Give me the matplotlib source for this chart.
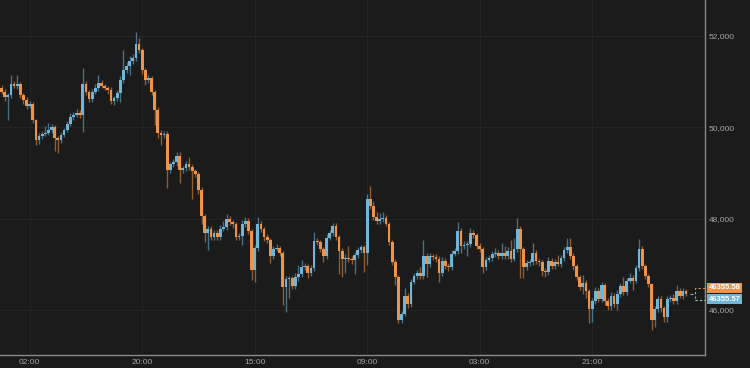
"""
30-min candlestick chart, dark theme
"""

import numpy as np
import matplotlib
matplotlib.use("Agg")
import matplotlib.pyplot as plt
import matplotlib.transforms as mtransforms
from matplotlib.patches import Rectangle

# 0. Colours
BG = "#1b1b1b"
UP = "#6fb6d9"
DOWN = "#ef9446"
GRID = "#242424"
AXIS = "#8a8a8a"
TEXT = "#a6a6a6"

plt.rcParams['font.family'] = ['Liberation Sans', 'DejaVu Sans']

# 1. Data
first_open = 50860
closes = [
    50770, 50670, 50710, 50950, 50910, 50950, 50710, 50600, 50470, 50510,
    50160, 49720, 49810, 49850, 49880, 49940, 50010, 49770, 49720, 49830,
    49940, 50070, 50230, 50270, 50310, 50270, 50950, 50770, 50620, 50770,
    50860, 50970, 50910, 50860, 50820, 50580, 50640, 50750, 51040, 51260,
    51340, 51450, 51520, 51830, 51690, 51260, 51040, 51080, 50770, 50380,
    49880, 49830, 49850, 49070, 49200, 49240, 49370, 49070, 49110, 49200,
    49130, 49040, 48980, 48630, 48060, 47690, 47770, 47600, 47690, 47600,
    47770, 47820, 47990, 47930, 47880, 47600, 47620, 47880, 47950, 47730,
    46880, 47360, 47880, 47770, 47600, 47530, 47180, 47340, 47360, 47250,
    46500, 46680, 46690, 46530, 46720, 46790, 46940, 46960, 46810, 46920,
    47510, 47490, 47340, 47180, 47580, 47690, 47840, 47600, 47290, 47120,
    47140, 47120, 47100, 47200, 47310, 47380, 47250, 48430, 48280, 48040,
    47950, 47990, 48010, 47880, 47490, 47050, 46720, 45780, 45910, 46310,
    46130, 46610, 46740, 46810, 46740, 47180, 47010, 47180, 47160, 47120,
    46810, 47070, 46960, 46940, 47230, 47290, 47730, 47400, 47420, 47450,
    47690, 47640, 47400, 47340, 46940, 47100, 47140, 47230, 47250, 47180,
    47250, 47180, 47290, 47120, 47340, 47770, 47340, 46940, 47030, 47050,
    47250, 47070, 47050, 46850, 46830, 47070, 46960, 47050, 47010, 47140,
    47310, 47380, 47180, 46960, 46720, 46500, 46590, 46420, 46020, 46200,
    46420, 46240, 46550, 46200, 46090, 46310, 46130, 46350, 46530, 46390,
    46640, 46700, 46640, 46920, 47340, 46960, 46740, 46570, 45780, 46020,
    46240, 46040, 45850, 46240, 46260, 46200, 46420, 46310, 46420, 46356,
]
# wick length above / below the body, in price points
wick_up = [
    60, 80, 40, 200, 60, 200, 50, 40, 60, 70,
    40, 30, 60, 80, 150, 150, 60, 40, 50, 60,
    50, 60, 80, 60, 90, 70, 350, 60, 40, 80,
    100, 175, 60, 50, 40, 60, 50, 60, 80, 440,
    90, 120, 80, 260, 130, 50, 40, 60, 40, 50,
    60, 70, 80, 60, 50, 60, 80, 90, 50, 60,
    150, 60, 50, 40, 60, 40, 80, 60, 70, 60,
    100, 130, 120, 60, 50, 40, 60, 80, 90, 60,
    50, 70, 150, 60, 50, 60, 40, 60, 90, 50,
    40, 60, 50, 60, 90, 200, 150, 60, 50, 70,
    200, 60, 50, 40, 80, 60, 70, 60, 50, 60,
    90, 260, 60, 70, 60, 50, 40, 110, 280, 110,
    110, 130, 130, 70, 50, 40, 60, 40, 60, 180,
    60, 70, 60, 60, 130, 350, 70, 60, 50, 70,
    60, 90, 70, 60, 80, 60, 200, 60, 80, 60,
    110, 60, 50, 60, 40, 60, 70, 60, 100, 70,
    220, 150, 80, 240, 240, 240, 60, 50, 70, 60,
    220, 60, 50, 40, 60, 90, 60, 70, 160, 60,
    80, 200, 200, 60, 50, 40, 180, 60, 50, 60,
    90, 60, 70, 50, 60, 80, 60, 90, 70, 200,
    60, 120, 60, 60, 220, 60, 50, 40, 30, 60,
    70, 60, 50, 60, 70, 80, 130, 60, 70, 50,
]
wick_dn = [
    50, 90, 500, 60, 40, 60, 70, 80, 60, 50,
    60, 110, 90, 60, 40, 50, 70, 290, 290, 60,
    50, 40, 40, 70, 50, 60, 370, 60, 70, 60,
    50, 60, 40, 50, 100, 60, 90, 60, 200, 60,
    60, 200, 70, 60, 60, 90, 110, 60, 70, 330,
    120, 220, 60, 390, 60, 70, 80, 290, 60, 70,
    60, 600, 60, 90, 180, 200, 370, 70, 60, 60,
    60, 50, 60, 70, 80, 60, 70, 200, 60, 70,
    220, 260, 60, 70, 80, 60, 150, 60, 50, 60,
    390, 550, 420, 70, 60, 80, 60, 60, 110, 60,
    60, 60, 70, 120, 60, 50, 60, 70, 500, 390,
    300, 60, 90, 320, 60, 70, 420, 260, 60, 80,
    60, 70, 60, 50, 60, 70, 180, 70, 60, 50,
    90, 60, 50, 60, 70, 60, 290, 60, 70, 80,
    200, 60, 70, 80, 60, 50, 60, 150, 60, 240,
    60, 70, 60, 80, 130, 60, 50, 60, 60, 60,
    60, 70, 60, 60, 50, 60, 630, 240, 60, 70,
    60, 70, 90, 110, 110, 60, 70, 60, 50, 60,
    60, 60, 70, 80, 60, 70, 150, 150, 300, 280,
    60, 70, 60, 90, 90, 90, 70, 130, 60, 60,
    70, 60, 200, 60, 60, 70, 60, 60, 220, 150,
    60, 80, 110, 110, 60, 70, 60, 50, 60, 40,
]
tick_idx = [9, 45, 81, 117, 153, 189]
tick_labels = ["02:00", "20:00", "15:00", "09:00", "03:00", "21:00"]
y_ticks = [46000, 48000, 50000, 52000]
last_ask = 46355.58
last_bid = 46355.57

closes = np.array(closes, dtype=float)
opens = np.concatenate([[first_open], closes[:-1]])
highs = np.maximum(opens, closes) + np.array(wick_up)
lows = np.minimum(opens, closes) - np.array(wick_dn)
x = np.arange(len(closes))
up = closes >= opens

# 2. Figure
fig = plt.figure(figsize=(7.5, 3.68), dpi=100, facecolor=BG)
ax = fig.add_axes([0, 13 / 368, 705 / 750, 355 / 368])
ax.set_facecolor(BG)
ax.set_xlim(-0.5, 225.1)
ax.set_ylim(45014, 52789)

# wicks first, then bodies on top
for mask, col in [(up, UP), (~up, DOWN)]:
    ax.vlines(x[mask], lows[mask], highs[mask], color=col, alpha=0.55, lw=1.0, zorder=2)
    body_bot = np.minimum(opens, closes)[mask]
    body_h = np.maximum(np.abs(closes - opens)[mask], 25)
    ax.bar(x[mask], body_h, bottom=body_bot, width=0.86, color=col, linewidth=0, zorder=3)

# placeholder for the forming candle
n = len(closes)
ax.add_patch(Rectangle((n + 1.9, last_bid - 135), 3.2, 260, fill=False, ec=DOWN,
                       ls=(0, (2, 2)), lw=0.8, zorder=3, clip_on=False))
ax.hlines(last_bid - 135, n + 1.9, n + 5.1, color=UP, ls=(0, (2, 2)), lw=0.8, zorder=4)
ax.hlines(last_bid, n + 0.4, n + 1.4, color=UP, lw=0.8, zorder=3)

# axes styling
ax.grid(True, color=GRID, lw=0.8, zorder=0)
ax.set_axisbelow(True)
for s in ['top', 'left']:
    ax.spines[s].set_visible(False)
for s in ['right', 'bottom']:
    ax.spines[s].set_color(AXIS)
    ax.spines[s].set_linewidth(1.0)

ax.yaxis.tick_right()
ax.set_yticks(y_ticks, [f"{v:,}" for v in y_ticks])
ax.set_xticks(tick_idx, tick_labels)
ax.tick_params(axis='y', length=0, pad=2.5, labelsize=6, colors=TEXT)
ax.tick_params(axis='x', length=0, pad=3, labelsize=6, colors=TEXT)

# last price tags
trans = mtransforms.blended_transform_factory(ax.transAxes, ax.transData)
for val, col, dy in [(last_ask, DOWN, 4.3), (last_bid, UP, -4.0)]:
    ax.annotate(f"{val:.2f}", xy=(1, val), xycoords=trans,
                xytext=(2.5, dy), textcoords='offset points',
                ha='left', va='center', fontsize=5.5, fontweight='bold', color='white',
                bbox=dict(boxstyle='square,pad=0.22', fc=col, ec='none'),
                annotation_clip=False, zorder=5)

plt.savefig("out.png", dpi=100, facecolor=BG)
plt.close()
